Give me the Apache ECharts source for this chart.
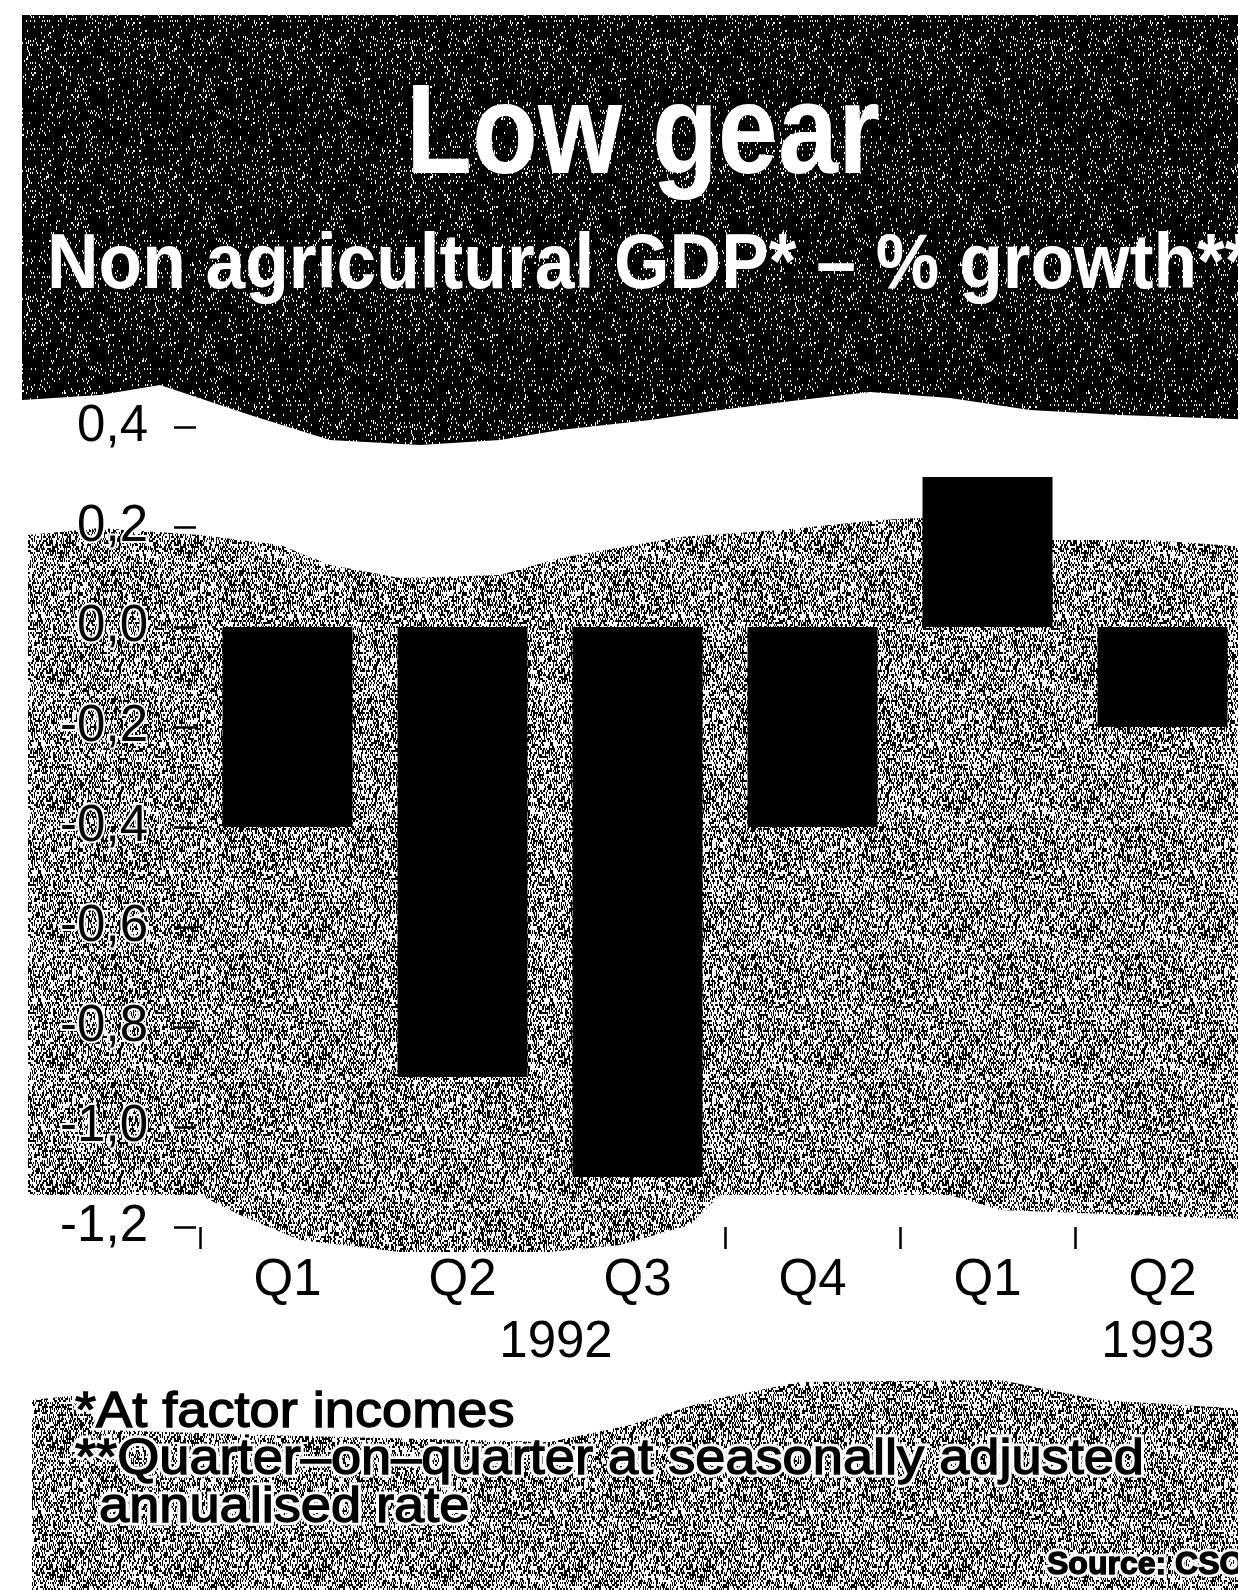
<!DOCTYPE html>
<html>
<head>
<meta charset="utf-8">
<title>Low gear</title>
<script src="https://cdn.jsdelivr.net/npm/echarts@6/dist/echarts.min.js"></script>
<style>
  html, body { margin: 0; padding: 0; background: #fff; overflow: hidden; }
  /* the printed chart is cut off on the right, so the canvas runs past the window */
  #chart { width: 1262px; height: 1590px; }
</style>
</head>
<body>
<div id="chart"></div>
<script>
// --- data ---
const quarters = ['Q1', 'Q2', 'Q3', 'Q4', 'Q1', 'Q2'];
const growth = [-0.4, -0.9, -1.1, -0.4, 0.3, -0.2];
const years = ['1992', '1993'];
const yMin = -1.2, yMax = 0.4, yStep = 0.2;

const titleText = 'Low gear';
const subtitleText = 'Non agricultural GDP* \u2013 % growth**';
const footnotes = ['*At factor incomes', '**Quarter\u2013on\u2013quarter at seasonally adjusted', 'annualised rate'];
const sourceText = 'Source: CSO';

const FONT = '"Liberation Sans", Arial, Helvetica, sans-serif';
const chart = echarts.init(document.getElementById('chart'));

// halftone-ish texture for the printed grey areas
function noiseTile(size, blackRatio, seed) {
  const cv = document.createElement('canvas');
  cv.width = cv.height = size;
  const ctx = cv.getContext('2d');
  ctx.fillStyle = '#fff';
  ctx.fillRect(0, 0, size, size);
  ctx.fillStyle = '#000';
  let s = seed;
  for (let y = 0; y < size; y += 2) {
    for (let x = 0; x < size; x++) {
      s = (s * 16807) % 2147483647;
      if (s / 2147483647 < blackRatio) ctx.fillRect(x, y, 1, 2);
    }
  }
  return cv;
}
const greyFill = { image: noiseTile(128, 0.46, 12345), repeat: 'repeat' };
const darkFill = { image: noiseTile(128, 0.93, 777), repeat: 'repeat' };

// fit a text to a measured width (the print face is condensed)
function fitScale(text, font, targetW) {
  const ctx = document.createElement('canvas').getContext('2d');
  ctx.font = font;
  return targetW / ctx.measureText(text).width;
}

const titleFont = 'bold 128px ' + FONT;
const subFont = 'bold 78px ' + FONT;
const noteFont = '50px ' + FONT;
const titleScale = fitScale(titleText, titleFont, 474);
const subScale = fitScale('Non agricultural GDP* \u2013 % growth', subFont, 1150);
const noteScale = fitScale(footnotes[1], noteFont, 1069);

function txt(text, x, y, font, opts) {
  opts = opts || {};
  return {
    type: 'text', x: x, y: y, z: opts.z || 50, scaleX: opts.scaleX || 1,
    style: {
      text: text, x: 0, y: 0, font: font,
      fill: opts.fill || '#000',
      stroke: opts.stroke || null, lineWidth: opts.lineWidth || 0,
      textAlign: opts.align || 'left', align: opts.align || 'left',
      textVerticalAlign: 'middle', verticalAlign: 'middle'
    }
  };
}
// printed text sitting on the grey: white halo underneath, slightly fattened ink on top
function inked(text, x, y, font, scaleX) {
  return [
    txt(text, x, y, font, { scaleX: scaleX, stroke: '#fff', lineWidth: 7, z: 50 }),
    txt(text, x, y, font, { scaleX: scaleX, stroke: '#000', lineWidth: 1.4, z: 51 })
  ];
}

const header = [[22,15],[1262,15],[1262,420],[1120,415],[1030,410],[950,398],[870,392],[800,400],
  [720,410],[650,420],[560,430],[500,440],[420,445],[330,440],[250,415],[160,385],[100,395],[22,400]];
const plotArea = [[28,535],[100,528],[200,535],[280,545],[330,565],[400,578],[500,575],[560,558],
  [680,537],[780,530],[880,520],[920,518],[1050,540],[1150,540],[1262,548],
  [1262,1220],[1000,1210],[950,1195],[720,1195],[690,1225],[620,1245],[550,1252],[400,1252],
  [300,1240],[240,1215],[200,1195],[28,1195]];
const noteArea = [[32,1400],[80,1395],[100,1430],[300,1436],[550,1442],[630,1425],[710,1400],
  [800,1382],[1000,1380],[1100,1400],[1262,1410],[1262,1590],[32,1590]];

chart.setOption({
  animation: false,
  grid: { left: 200, top: 427, width: 1050, height: 800 },
  xAxis: {
    type: 'category',
    data: quarters,
    axisLine: { show: false, onZero: false },
    axisTick: {
      show: true, length: 22,
      interval: i => i !== 1 && i !== 2,   // these two are lost in the screen in print
      lineStyle: { color: '#000', width: 2.5 }
    },
    axisLabel: { color: '#000', fontFamily: FONT, fontSize: 51, margin: 28 },
    splitLine: { show: false }
  },
  yAxis: {
    type: 'value',
    min: yMin, max: yMax, interval: yStep,
    offset: 4,
    axisLine: { show: false },
    axisTick: { show: true, length: 22, lineStyle: { color: '#000', width: 2.5 } },
    axisLabel: {
      color: '#000', fontFamily: FONT, fontSize: 51, margin: 48,
      textBorderColor: '#fff', textBorderWidth: 4,
      formatter: v => v.toFixed(1).replace('.', ',').replace('-0,0', '0,0')
    },
    splitLine: { show: false }
  },
  series: [{
    type: 'bar',
    data: growth,
    barWidth: 130,
    itemStyle: { color: '#000' },
    z: 10
  }],
  graphic: [
    { type: 'polygon', z: -10, shape: { points: header }, style: { fill: darkFill } },
    { type: 'polygon', z: -10, shape: { points: plotArea }, style: { fill: greyFill } },
    { type: 'polygon', z: -10, shape: { points: noteArea }, style: { fill: greyFill } },
    txt(titleText, 406, 138, titleFont, { fill: '#fff', scaleX: titleScale }),
    txt(subtitleText, 47, 266, subFont, { fill: '#fff', scaleX: subScale }),
    txt(years[0], 556, 1343, '51px ' + FONT, { align: 'center' }),
    txt(years[1], 1158, 1343, '51px ' + FONT, { align: 'center' })
  ].concat(
    inked(footnotes[0], 75, 1413, noteFont, noteScale),
    inked(footnotes[1], 75, 1460, noteFont, noteScale),
    inked(footnotes[2], 99, 1508, noteFont, noteScale),
    inked(sourceText, 1047, 1565, 'bold 32px ' + FONT, 1)
  )
});
</script>
</body>
</html>
